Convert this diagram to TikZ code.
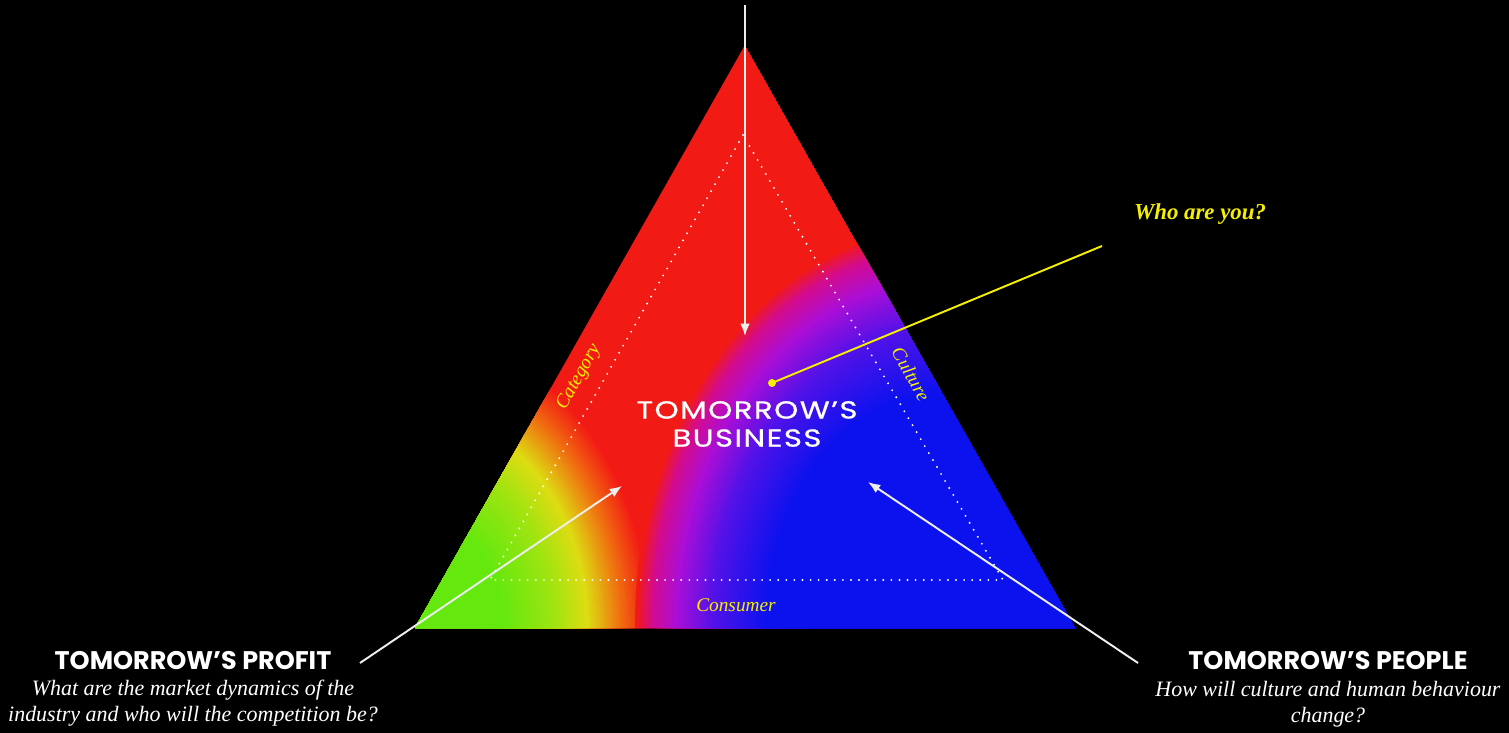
\documentclass[tikz,border=0pt]{standalone}
\usepackage{fontspec}
\setmainfont{Liberation Serif}
\setsansfont{Poppins}
\newfontfamily\widefont{Poppins}[FakeStretch=1.25,LetterSpace=6,FakeBold=0.8]
\usetikzlibrary{arrows.meta}

\definecolor{glowred}{RGB}{242,26,20}
\definecolor{gloworange}{RGB}{240,110,16}
\definecolor{glowyellow}{RGB}{222,220,18}
\definecolor{glowlime}{RGB}{160,228,16}
\definecolor{glowgreen}{RGB}{100,232,14}
\definecolor{glowmagenta}{RGB}{212,12,140}
\definecolor{glowpurple}{RGB}{170,14,215}
\definecolor{glowviolet}{RGB}{80,18,232}
\definecolor{glowblue}{RGB}{12,18,238}
\definecolor{labelyellow}{RGB}{246,240,0}
\definecolor{arrowwhite}{RGB}{238,238,238}

\begin{document}
\begin{tikzpicture}[x=0.02cm, y=-0.02cm, >={Latex[length=7pt,width=5.5pt]},
    pointer/.style={->, draw=arrowwhite, line width=1.1pt},
    headline/.style={font=\sffamily\bfseries\fontsize{14.5}{16}\selectfont, text=white},
    question/.style={font=\itshape\fontsize{12.5}{14.7}\selectfont, text=white, align=center},
    sidelabel/.style={font=\itshape\fontsize{11}{13}\selectfont, text=labelyellow}]
	\fill[black] (0,0) rectangle (1509,733);
	\useasboundingbox (0,0) rectangle (1509,733);
	\coordinate (apex) at (745,45);
	\coordinate (leftcorner) at (415,628);
	\coordinate (rightcorner) at (1075,628);
	\coordinate (bluecentre) at (945,625);
	% colour field
	\begin{scope}
		\clip (apex) -- (leftcorner) -- (rightcorner) -- cycle;
		\fill[glowred] (apex) -- (leftcorner) -- (rightcorner) -- cycle;
		\foreach \k in {100,99,...,1}{
			\ifnum\k>88 \pgfmathtruncatemacro\p{(\k-88)*100/12}\colorlet{ring}{glowred!\p!gloworange}
			\else\ifnum\k>74 \pgfmathtruncatemacro\p{(\k-74)*100/14}\colorlet{ring}{gloworange!\p!glowyellow}
			\else\ifnum\k>60 \pgfmathtruncatemacro\p{(\k-60)*100/14}\colorlet{ring}{glowyellow!\p!glowlime}
			\else\ifnum\k>38 \pgfmathtruncatemacro\p{(\k-38)*100/22}\colorlet{ring}{glowlime!\p!glowgreen}
			\else\colorlet{ring}{glowgreen}\fi\fi\fi\fi
			\fill[ring] (leftcorner) ellipse [x radius=2.35*\k, y radius=2.95*\k];
		}
		\foreach \k in {100,99,...,1}{
			\ifnum\k>95 \pgfmathtruncatemacro\p{(\k-95)*100/5}\colorlet{ring}{glowred!\p!glowmagenta}
			\else\ifnum\k>87 \pgfmathtruncatemacro\p{(\k-87)*100/8}\colorlet{ring}{glowmagenta!\p!glowpurple}
			\else\ifnum\k>75 \pgfmathtruncatemacro\p{(\k-75)*100/12}\colorlet{ring}{glowpurple!\p!glowviolet}
			\else\ifnum\k>58 \pgfmathtruncatemacro\p{(\k-58)*100/17}\colorlet{ring}{glowviolet!\p!glowblue}
			\else\colorlet{ring}{glowblue}\fi\fi\fi\fi
			\fill[ring] (bluecentre) ellipse [x radius=3.1*\k, y radius=4*\k];
		}
	\end{scope}
	% inner dotted triangle
	\coordinate (innertop) at (743,135);
	\coordinate (innerleft) at (490,580);
	\coordinate (innerright) at (1003,580);
	\draw[white, line width=1.2pt, line cap=round, dash pattern=on 0pt off 4.6pt]
		(innertop) -- (innerleft) -- (innerright) -- cycle;
	\node[sidelabel, rotate=60.5] (category) at (579,377) {Category};
	\node[sidelabel, rotate=-60.5] (culture) at (911,374) {Culture};
	\node[sidelabel] (consumer) at (736,605) {Consumer};
	% arrows
	\coordinate (topfeed) at (745,5);
	\coordinate (toptip) at (745,336);
	\draw[pointer] (topfeed) -- (toptip);
	\coordinate (profitfoot) at (360,663);
	\coordinate (profittip) at (622,486);
	\draw[pointer] (profitfoot) -- (profittip);
	\coordinate (peoplefoot) at (1138,663);
	\coordinate (peopletip) at (868,482);
	\draw[pointer] (peoplefoot) -- (peopletip);
	% centre
	\node[font=\widefont\fontsize{14}{16}\selectfont, text=white, align=center] (business) at (747,424) {TOMORROW’S\\BUSINESS};
	\fill[labelyellow] (772,383) circle (4) coordinate (pin);
	\coordinate (whoend) at (1102,246);
	\draw[labelyellow, line width=1.1pt] (pin) -- (whoend);
	\node[font=\bfseries\itshape\fontsize{13}{15}\selectfont, text=labelyellow] (who) at (1200,214) {Who are you?};
	% corners
	\node[headline] (profithead) at (193,661) {TOMORROW’S PROFIT};
	\node[question] (profitq) at (193,703) {What are the market dynamics of the\\industry and who will the competition be?};
	\node[headline] (peoplehead) at (1328,661) {TOMORROW’S PEOPLE};
	\node[question] (peopleq) at (1328,704) {How will culture and human behaviour\\change?};
\end{tikzpicture}
\end{document}
